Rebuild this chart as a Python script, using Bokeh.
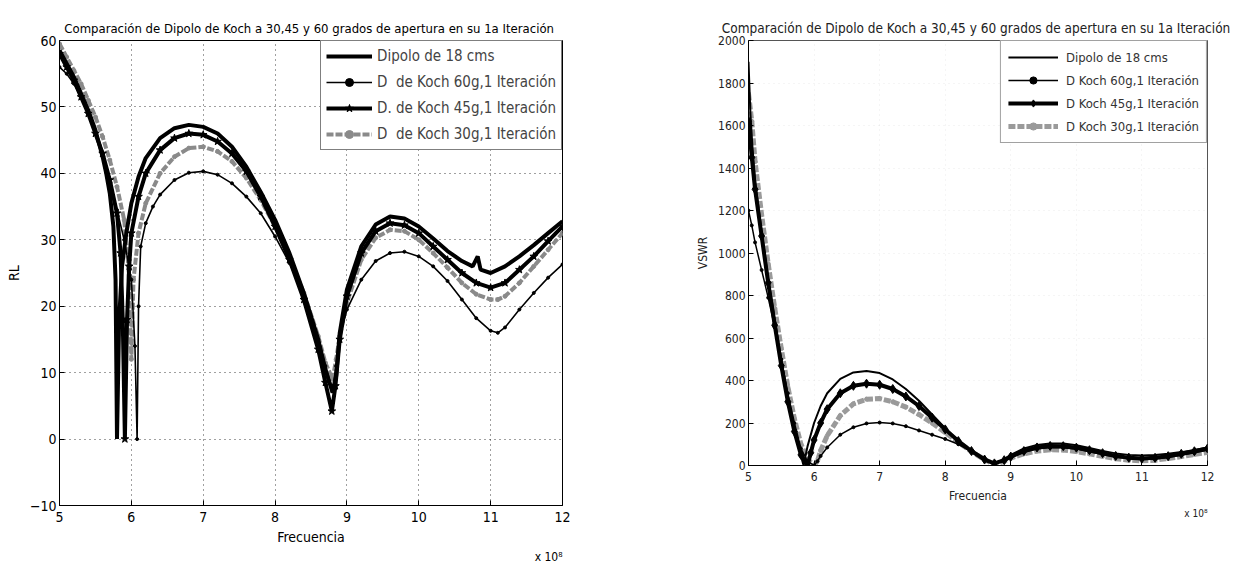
from bokeh.plotting import figure
from bokeh.models import Legend, LegendItem, Range1d, FixedTicker, Title
from bokeh.embed import file_html
from bokeh.resources import INLINE

# ---------------- data (frequency in units of 1e8 Hz) ----------------
title_text = "Comparación de Dipolo de Koch a 30,45 y 60 grados de apertura en su 1a  Iteración"
x_ticks = [5, 6, 7, 8, 9, 10, 11, 12]
rl_ticks = [-10, 0, 10, 20, 30, 40, 50, 60]
vswr_ticks = [0, 200, 400, 600, 800, 1000, 1200, 1400, 1600, 1800, 2000]

labels_rl = ["Dipolo de 18 cms", "D  de Koch 60g,1 Iteración",
             "D. de Koch 45g,1 Iteración", "D  de Koch 30g,1 Iteración"]
labels_vswr = ["Dipolo de 18 cms", "D Koch 60g,1 Iteración",
               "D Koch 45g,1 Iteración", "D Koch 30g,1 Iteración"]

rl_dipolo = [(5.0, 58.5), (5.1, 56.5), (5.2, 54.5), (5.3, 52), (5.4, 49.5), (5.5, 46.5), (5.6, 42.5),
             (5.65, 40), (5.7, 37), (5.75, 32), (5.78, 24), (5.80, 0), (5.83, 18), (5.87, 26), (5.93, 31),
             (6.0, 35.5), (6.1, 39.5), (6.2, 42.3), (6.4, 45.3), (6.6, 46.8), (6.8, 47.3), (7.0, 47),
             (7.2, 46), (7.4, 44), (7.6, 41), (7.8, 37.2), (8.0, 33), (8.2, 28), (8.4, 22), (8.6, 15),
             (8.7, 10.5), (8.8, 7), (8.85, 9.5), (8.9, 16), (9.0, 22.5), (9.2, 29), (9.4, 32.3), (9.6, 33.5),
             (9.8, 33.2), (10.0, 32), (10.2, 30.2), (10.4, 28.3), (10.6, 26.8), (10.75, 26), (10.82, 27.5),
             (10.86, 25.5), (11.0, 25), (11.2, 26), (11.4, 27.5), (11.6, 29.2), (11.8, 31), (12.0, 32.8)]
rl_koch60 = [(5.0, 56), (5.1, 55), (5.2, 53.5), (5.3, 51.5), (5.4, 49), (5.5, 46), (5.6, 42.5), (5.7, 38.5),
             (5.8, 34.5), (5.9, 30), (6.0, 24), (6.05, 14), (6.08, 0), (6.1, 20), (6.13, 29), (6.2, 32.5),
             (6.3, 35), (6.4, 36.8), (6.6, 39), (6.8, 40.1), (7.0, 40.3), (7.2, 39.8), (7.4, 38.5),
             (7.6, 36.5), (7.8, 34), (8.0, 30.5), (8.2, 26.5), (8.4, 21.5), (8.6, 15), (8.7, 11), (8.8, 7.5),
             (8.85, 11), (8.9, 15.5), (9.0, 19.5), (9.2, 24), (9.4, 26.8), (9.6, 28), (9.8, 28.2), (10.0, 27.5),
             (10.2, 26), (10.4, 23.8), (10.6, 21), (10.8, 18.2), (11.0, 16.3), (11.1, 16), (11.2, 16.8),
             (11.4, 19.5), (11.6, 22), (11.8, 24.3), (12.0, 26.3)]
rl_koch45 = [(5.0, 58), (5.1, 56), (5.2, 54), (5.3, 51.5), (5.4, 49), (5.5, 46), (5.6, 43), (5.7, 39),
             (5.8, 34), (5.85, 28), (5.88, 18), (5.91, 0), (5.94, 18), (5.97, 26), (6.0, 31), (6.1, 36.5),
             (6.2, 40), (6.4, 43.5), (6.6, 45.3), (6.8, 46), (7.0, 45.8), (7.2, 44.8), (7.4, 43), (7.6, 40.3),
             (7.8, 36.5), (8.0, 32), (8.2, 27), (8.4, 21), (8.6, 13.5), (8.7, 8.5), (8.79, 4.2), (8.84, 8),
             (8.9, 15), (9.0, 21.5), (9.2, 28), (9.4, 31.3), (9.6, 32.5), (9.8, 32.2), (10.0, 31), (10.2, 29),
             (10.4, 27), (10.6, 25), (10.8, 23.5), (11.0, 22.8), (11.2, 23.5), (11.4, 25.5), (11.6, 27.5),
             (11.8, 29.8), (12.0, 32)]
rl_koch30 = [(5.0, 59.5), (5.1, 57.5), (5.2, 55.5), (5.3, 53.5), (5.4, 51), (5.5, 48.5), (5.6, 45.5), (5.7, 42),
             (5.8, 38), (5.9, 33), (5.96, 26), (6.0, 12), (6.03, 24), (6.1, 31), (6.2, 35.5), (6.4, 40),
             (6.6, 42.5), (6.8, 43.8), (7.0, 44), (7.2, 43.3), (7.4, 41.8), (7.6, 39.3), (7.8, 36), (8.0, 32),
             (8.2, 27.5), (8.4, 22), (8.6, 15.5), (8.7, 11.5), (8.8, 9), (8.85, 12), (8.9, 15.5), (9.0, 20.5),
             (9.2, 27), (9.4, 30.3), (9.6, 31.5), (9.8, 31.3), (10.0, 30), (10.2, 28), (10.4, 25.8), (10.6, 23.5),
             (10.8, 21.8), (11.0, 21), (11.1, 21), (11.2, 21.5), (11.4, 23.5), (11.6, 26), (11.8, 28.5), (12.0, 31)]

vswr_dipolo = [(5.0, 1900), (5.03, 1650), (5.06, 1500), (5.1, 1340), (5.2, 1100), (5.3, 880), (5.4, 690),
               (5.5, 500), (5.6, 320), (5.7, 170), (5.8, 45), (5.84, 0), (5.9, 90), (6.0, 200), (6.1, 280),
               (6.2, 340), (6.4, 408), (6.6, 438), (6.8, 445), (7.0, 435), (7.2, 405), (7.4, 360), (7.6, 305),
               (7.8, 240), (8.0, 175), (8.2, 115), (8.4, 65), (8.6, 25), (8.75, 8), (8.9, 30), (9.0, 50),
               (9.2, 80), (9.4, 97), (9.6, 104), (9.8, 103), (10.0, 95), (10.2, 82), (10.4, 68), (10.6, 57),
               (10.8, 50), (11.0, 47), (11.2, 49), (11.4, 55), (11.6, 63), (11.8, 73), (12.0, 85)]
vswr_koch60 = [(5.0, 1200), (5.05, 1130), (5.1, 1050), (5.2, 920), (5.3, 790), (5.4, 650), (5.5, 500),
               (5.6, 340), (5.7, 200), (5.8, 80), (5.9, 20), (6.0, 0), (6.05, 20), (6.1, 45), (6.2, 85),
               (6.4, 145), (6.6, 180), (6.8, 198), (7.0, 202), (7.2, 198), (7.4, 185), (7.6, 165), (7.8, 145),
               (8.0, 125), (8.2, 100), (8.4, 65), (8.6, 28), (8.75, 8), (8.9, 22), (9.0, 38), (9.2, 62),
               (9.4, 78), (9.6, 85), (9.8, 84), (10.0, 77), (10.2, 65), (10.4, 52), (10.6, 40), (10.8, 32),
               (11.0, 28), (11.2, 30), (11.4, 38), (11.6, 48), (11.8, 60), (12.0, 72)]
vswr_koch45 = [(5.0, 1620), (5.05, 1450), (5.1, 1300), (5.2, 1080), (5.3, 860), (5.4, 660), (5.5, 470),
               (5.6, 300), (5.7, 160), (5.8, 50), (5.9, 0), (5.95, 60), (6.0, 120), (6.1, 200), (6.2, 265),
               (6.4, 340), (6.6, 375), (6.8, 385), (7.0, 380), (7.2, 360), (7.4, 325), (7.6, 280), (7.8, 225),
               (8.0, 170), (8.2, 115), (8.4, 68), (8.6, 28), (8.75, 10), (8.9, 25), (9.0, 42), (9.2, 68),
               (9.4, 85), (9.6, 92), (9.8, 91), (10.0, 84), (10.2, 72), (10.4, 58), (10.6, 45), (10.8, 37),
               (11.0, 33), (11.2, 36), (11.4, 44), (11.6, 55), (11.8, 67), (12.0, 80)]
vswr_koch30 = [(5.0, 1750), (5.05, 1620), (5.1, 1430), (5.2, 1180), (5.3, 950), (5.4, 740), (5.5, 550),
               (5.6, 370), (5.7, 220), (5.8, 100), (5.9, 30), (6.0, 0), (6.05, 20), (6.1, 70), (6.2, 140),
               (6.4, 235), (6.6, 290), (6.8, 312), (7.0, 315), (7.2, 300), (7.4, 275), (7.6, 240), (7.8, 200),
               (8.0, 155), (8.2, 110), (8.4, 65), (8.6, 28), (8.75, 5), (8.9, 20), (9.0, 35), (9.2, 55),
               (9.4, 68), (9.6, 74), (9.8, 73), (10.0, 66), (10.2, 55), (10.4, 43), (10.6, 32), (10.8, 25),
               (11.0, 22), (11.2, 25), (11.4, 33), (11.6, 42), (11.8, 52), (12.0, 62)]

FONT = "'DejaVu Sans Condensed', 'Liberation Sans Narrow', 'Liberation Sans', sans-serif"
H = 563


def xy(pairs):
    return [p[0] for p in pairs], [p[1] for p in pairs]


def make_fig(yr, yticks, ylabel, width, mb, fsize, tsize, tcol, grid_alpha, stand):
    p = figure(width=width, height=H, x_range=Range1d(5, 12), y_range=Range1d(*yr),
               output_backend="svg", toolbar_location=None,
               min_border_left=mb[0], min_border_right=mb[1], min_border_top=mb[2], min_border_bottom=mb[3],
               title=title_text)
    p.title.align = "center"
    p.title.text_font = FONT
    p.title.text_font_size = f"{tsize}px"
    p.title.text_font_style = "normal"
    p.title.text_color = tcol
    p.outline_line_color = "black"
    p.outline_line_width = 1
    p.background_fill_color = "white"
    p.border_fill_color = "white"
    p.xaxis.ticker = FixedTicker(ticks=x_ticks)
    p.yaxis.ticker = FixedTicker(ticks=yticks)
    for ax in (p.xaxis, p.yaxis):
        ax.major_tick_in = 5
        ax.major_tick_out = 0
        ax.minor_tick_line_color = None
        ax.axis_line_color = "black"
        ax.major_tick_line_color = "black"
        ax.major_label_text_font = FONT
        ax.major_label_text_font_size = f"{fsize}px"
        ax.major_label_text_color = tcol
        ax.axis_label_text_font = FONT
        ax.axis_label_text_font_size = f"{fsize}px"
        ax.axis_label_text_font_style = "normal"
        ax.axis_label_text_color = tcol
    p.xaxis.axis_label = "Frecuencia"
    p.yaxis.axis_label = ylabel
    p.xaxis.major_label_standoff = stand[0]
    p.xaxis.axis_label_standoff = stand[1]
    p.yaxis.major_label_standoff = 3
    p.yaxis.axis_label_standoff = 5
    p.grid.grid_line_color = "black"
    p.grid.grid_line_alpha = grid_alpha
    p.grid.grid_line_dash = "1 4"
    exp = Title(text="x 10⁸", align="right", text_font=FONT, text_font_size=f"{fsize - 2}px",
                text_font_style="normal", text_color=tcol, standoff=0)
    p.add_layout(exp, "below")
    return p


# ---------------- left: RL ----------------
p1 = make_fig((-10, 60), rl_ticks, "RL", 612, (59, 50, 40, 50), 14, 13, "black", 0.75, (6, 4))

x, y = xy(rl_koch30)
g30_l = p1.line(x, y, line_color="#8a8a8a", line_width=4, line_dash="7 2")
g30_s = p1.scatter(x, y, marker="circle", size=4, color="#8a8a8a")
x, y = xy(rl_koch60)
g60_l = p1.line(x, y, line_color="black", line_width=1.6)
g60_s = p1.scatter(x, y, marker="circle", size=3, color="black")
x, y = xy(rl_koch45)
g45_l = p1.line(x, y, line_color="black", line_width=4)
g45_s = p1.scatter(x, y, marker="star", size=8, color="black")
x, y = xy(rl_dipolo)
gd_l = p1.line(x, y, line_color="black", line_width=4)

leg1 = Legend(items=[
    LegendItem(label=labels_rl[0], renderers=[gd_l]),
    LegendItem(label=labels_rl[1], renderers=[g60_l, g60_s]),
    LegendItem(label=labels_rl[2], renderers=[g45_l, g45_s]),
    LegendItem(label=labels_rl[3], renderers=[g30_l, g30_s]),
], location="top_right")
leg1.label_text_font = FONT
leg1.label_text_font_size = "15px"
leg1.glyph_width = 46
leg1.glyph_height = 20
leg1.spacing = 6
leg1.padding = 5
leg1.margin = 0
leg1.border_line_color = "black"
leg1.border_line_width = 1
leg1.background_fill_alpha = 1
p1.add_layout(leg1)

# ---------------- right: VSWR ----------------
TC = "#222222"
p2 = make_fig((0, 2000), vswr_ticks, "VSWR", 620, (136, 25, 40, 98), 12, 13.5, TC, 0.08, (6, 5))
p2.outline_line_color = "#555555"

x, y = xy(vswr_koch30)
v30_l = p2.line(x, y, line_color="#9a9a9a", line_width=5, line_dash="7 2")
v30_s = p2.scatter(x, y, marker="circle", size=4, color="#9a9a9a")
x, y = xy(vswr_koch60)
v60_l = p2.line(x, y, line_color="black", line_width=1.5)
v60_s = p2.scatter(x, y, marker="circle", size=3, color="black")
x, y = xy(vswr_koch45)
v45_l = p2.line(x, y, line_color="black", line_width=4)
v45_s = p2.scatter(x, y, marker="diamond", size=9, color="black")
x, y = xy(vswr_dipolo)
vd_l = p2.line(x, y, line_color="black", line_width=2)

leg2 = Legend(items=[
    LegendItem(label=labels_vswr[0], renderers=[vd_l]),
    LegendItem(label=labels_vswr[1], renderers=[v60_l, v60_s]),
    LegendItem(label=labels_vswr[2], renderers=[v45_l, v45_s]),
    LegendItem(label=labels_vswr[3], renderers=[v30_l, v30_s]),
], location="top_right")
leg2.label_text_font = FONT
leg2.label_text_font_size = "13px"
leg2.label_text_color = "#333333"
leg2.glyph_width = 50
leg2.glyph_height = 18
leg2.spacing = 5
leg2.padding = 7
leg2.label_standoff = 8
leg2.margin = 0
leg2.border_line_color = "#444444"
leg2.background_fill_alpha = 1
p2.add_layout(leg2)

html = file_html([p1, p2], INLINE)
css = ("<style>html, body { margin: 0 !important; padding: 0 !important; } "
       "body { display: flex !important; flex-direction: row !important; "
       "align-items: flex-start !important; flex-wrap: nowrap !important; }</style>")
html = html.replace("</head>", css + "</head>", 1)
open("out.html", "w").write(html)
